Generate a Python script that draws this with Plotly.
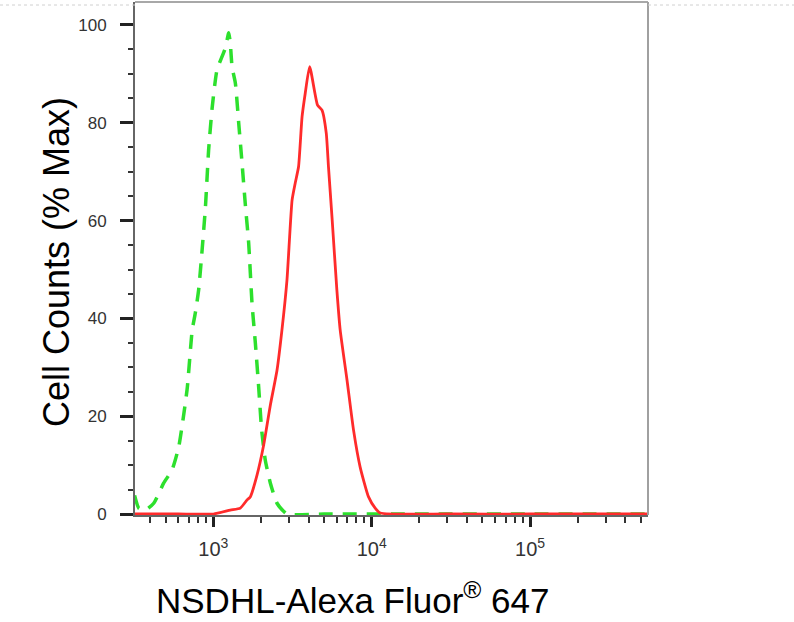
import plotly.graph_objects as go

# Isotype control (green dashed) - fluorescence intensity and % max
ctrl_x = [318, 338, 372, 420, 485, 548, 604, 682, 735, 769, 807, 849, 891, 933, 982,
          1054, 1191, 1250, 1279, 1312, 1377, 1445, 1517, 1592, 1671, 1754, 1841, 1932,
          2018, 2128, 2291, 2523, 2917, 5000, 20000, 100000, 555900]
ctrl_y = [3.8, 1.2, 0.8, 2.2, 6.3, 9.0, 13.7, 25.4, 37.6, 41.1, 45.8, 54.0, 62.8, 74.4, 83.0,
          90.8, 95.3, 98.4, 96.3, 91.4, 88.1, 80.0, 71.8, 63.2, 55.4, 43.1, 35.0, 26.0,
          17.2, 11.0, 6.3, 2.2, 0.0, 0.0, 0.0, 0.0, 0.0]

# NSDHL stained sample (red solid)
nsdhl_x = [316, 600, 1000, 1279, 1479, 1633, 1710, 1888, 2075, 2291, 2523, 2710, 2917,
           3141, 3289, 3451, 3631, 3802, 4055, 4550, 4853, 5164, 5333, 5610, 6026, 6324,
           6982, 7674, 8453, 9550, 10520, 11324, 30000, 100000, 555900]
nsdhl_y = [0.0, 0.0, 0.0, 0.8, 1.2, 2.9, 3.5, 8.0, 14.0, 22.3, 29.4, 37.6, 47.9,
           64.2, 67.7, 71.0, 81.2, 86.0, 91.5, 83.6, 82.6, 77.9, 71.0, 60.8, 45.8, 37.6,
           27.4, 17.2, 9.6, 3.5, 1.2, 0.2, 0.0, 0.0, 0.0]

x_major = [1000, 10000, 100000]
x_major_text = ["10<sup>3</sup>", "10<sup>4</sup>", "10<sup>5</sup>"]
y_major = [0, 20, 40, 60, 80, 100]

x_minor = [m * 10 ** e for e in range(2, 6) for m in range(2, 10)]

fig = go.Figure()
fig.add_trace(go.Scatter(x=ctrl_x, y=ctrl_y, mode="lines",
                         line=dict(color="#2de02d", width=3.5, dash="14px,10px",
                                   shape="spline", smoothing=0.5),
                         showlegend=False, hoverinfo="skip"))
fig.add_trace(go.Scatter(x=nsdhl_x, y=nsdhl_y, mode="lines",
                         line=dict(color="#ff2b2b", width=2.8, shape="spline", smoothing=0.5),
                         showlegend=False, hoverinfo="skip"))

L, R, T, B = 135, 146, 2, 107
W, H = 794, 622
pw = W - L - R
ph = H - T - B

fig.update_layout(
    width=W, height=H,
    margin=dict(l=L, r=R, t=T, b=B, pad=0),
    paper_bgcolor="white", plot_bgcolor="white",
    font=dict(family="Liberation Sans, Arial, sans-serif", color="#333"),
    xaxis=dict(type="log", range=[2.505, 5.745],
               tickmode="array", tickvals=x_major, ticktext=x_major_text,
               ticks="outside", ticklen=10, tickwidth=3, tickcolor="#222",
               ticklabelstandoff=5,
               tickfont=dict(size=20, color="#333", family="Liberation Sans, Arial"),
               showline=True, linecolor="#666", linewidth=2,
               showgrid=False, zeroline=False,
               minor=dict(tickmode="array", tickvals=x_minor, ticks="outside",
                          ticklen=6, tickwidth=2, tickcolor="#333", showgrid=False)),
    yaxis=dict(range=[-0.2, 104.7],
               tickmode="array", tickvals=y_major,
               ticks="outside", ticklen=13, tickwidth=3, tickcolor="#222",
               ticklabelstandoff=10,
               tickfont=dict(size=17, color="#333", family="Liberation Sans, Arial"),
               showline=True, linecolor="#666", linewidth=2,
               showgrid=False, zeroline=False,
               minor=dict(dtick=5, ticks="outside", ticklen=5, tickwidth=2,
                          tickcolor="#333", showgrid=False)),
)

# frame top/right (lighter gray)
fig.add_shape(type="line", xref="paper", yref="paper", x0=0, x1=1, y0=1, y1=1,
              line=dict(color="#a8a8a8", width=2))
fig.add_shape(type="line", xref="paper", yref="paper", x0=1, x1=1, y0=0, y1=1,
              line=dict(color="#a0a0a0", width=2))
# faint dotted line along the top of the image
fig.add_shape(type="line", xref="paper", yref="paper", x0=-L / pw, x1=0,
              y0=1 - 3 / ph, y1=1 - 3 / ph, line=dict(color="#d0d0d0", width=1, dash="dot"))
fig.add_shape(type="line", xref="paper", yref="paper", x0=1, x1=1 + R / pw,
              y0=1 - 3 / ph, y1=1 - 3 / ph, line=dict(color="#d0d0d0", width=1, dash="dot"))

# axis titles
fig.add_annotation(text="Cell Counts (% Max)", xref="paper", yref="paper",
                   x=(56 - L) / pw, y=(H - B - 262) / ph, textangle=-90, showarrow=False,
                   xanchor="center", yanchor="middle",
                   font=dict(size=36, color="#000", family="Liberation Sans, Arial"))
fig.add_annotation(text="NSDHL-Alexa Fluor<sup>®</sup> 647", xref="paper", yref="paper",
                   x=(353 - L) / pw, y=(H - B - 598) / ph, showarrow=False,
                   xanchor="center", yanchor="middle",
                   font=dict(size=35, color="#000", family="Liberation Sans, Arial"))

fig.write_html("out.html", config={"displayModeBar": False},
               post_script="document.body.style.margin='0';document.body.style.overflow='hidden';")
